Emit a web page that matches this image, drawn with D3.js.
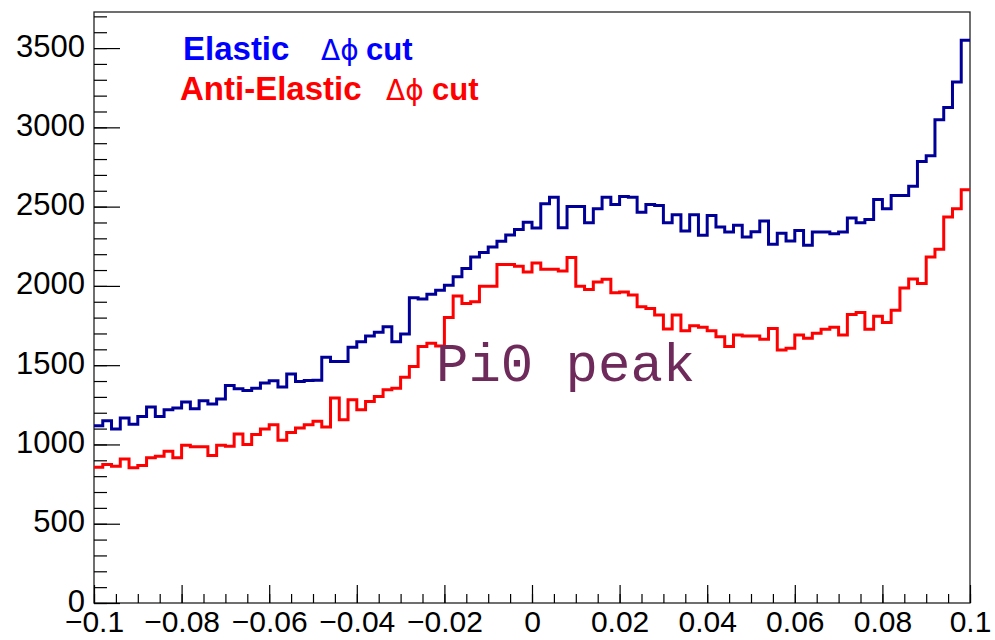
<!DOCTYPE html>
<html>
<head>
<meta charset="utf-8">
<script src="https://cdn.jsdelivr.net/npm/d3@7"></script>
<style>
  html, body { margin: 0; padding: 0; background: #fff; }
  svg { display: block; }
</style>
</head>
<body>
<svg id="chart" width="995" height="640"></svg>
<script>
// Histogram range and binning (100 bins from -0.1 to 0.1)
const xMin = -0.1;
const xMax = 0.1;

// Counts per bin, elastic Δϕ cut
const elastic = [
  1118, 1150, 1098, 1167, 1127, 1177, 1236, 1177, 1219, 1230,
  1267, 1225, 1276, 1255, 1286, 1372, 1351, 1340, 1355, 1387,
  1401, 1362, 1445, 1397, 1403, 1405, 1550, 1523, 1523, 1613,
  1648, 1684, 1707, 1743, 1648, 1697, 1925, 1917, 1948, 1973,
  2004, 2057, 2109, 2183, 2210, 2245, 2281, 2321, 2356, 2402,
  2365, 2518, 2559, 2367, 2501, 2501, 2398, 2486, 2559, 2513,
  2564, 2559, 2465, 2513, 2507, 2398, 2449, 2346, 2449, 2319,
  2444, 2371, 2340, 2382, 2309, 2342, 2409, 2262, 2332, 2283,
  2350, 2256, 2340, 2340, 2329, 2340, 2428, 2398, 2419, 2545,
  2486, 2570, 2570, 2629, 2784, 2821, 3048, 3125, 3286, 3550
];

// Counts per bin, anti-elastic Δϕ cut
const antiElastic = [
  856, 873, 863, 909, 853, 867, 916, 926, 957, 916,
  995, 985, 985, 930, 995, 988, 1066, 999, 1062, 1098,
  1125, 1026, 1076, 1104, 1125, 1146, 1110, 1293, 1156, 1282,
  1219, 1271, 1303, 1345, 1355, 1424, 1491, 1617, 1638, 1621,
  1801, 1937, 1889, 1900, 1998, 1998, 2135, 2135, 2124, 2088,
  2145, 2105, 2105, 2094, 2179, 1998, 1977, 2025, 2042, 1956,
  1962, 1942, 1868, 1858, 1816, 1728, 1816, 1717, 1749, 1739,
  1717, 1680, 1617, 1690, 1684, 1684, 1663, 1732, 1596, 1607,
  1690, 1670, 1701, 1726, 1739, 1690, 1819, 1833, 1727, 1808,
  1769, 1847, 1986, 2043, 2015, 2182, 2231, 2434, 2486, 2606
];

// Axis ticks
const xTickValues = [-0.1, -0.08, -0.06, -0.04, -0.02, 0, 0.02, 0.04, 0.06, 0.08, 0.1];
const xTickLabels = ["\u22120.1", "\u22120.08", "\u22120.06", "\u22120.04", "\u22120.02", "0", "0.02", "0.04", "0.06", "0.08", "0.1"];
const xMinorStep = 0.005;
const yTickValues = [0, 500, 1000, 1500, 2000, 2500, 3000, 3500];
const yTickLabels = ["0", "500", "1000", "1500", "2000", "2500", "3000", "3500"];
const yMinorStep = 100;

// Series styling and legend text
const seriesNames = ["Elastic", "Anti-Elastic"];
const lineColors = ["#000099", "#ff0000"];
const textColors = ["#0000ff", "#ff0000"];
const annotation = "Pi0 peak";

const svg = d3.select("#chart");
const frame = { left: 94, right: 970, top: 12, bottom: 603 };
const sans = "'Liberation Sans', Arial, Helvetica, sans-serif";

const x = d3.scaleLinear().domain([xMin, xMax]).range([frame.left, frame.right]);
const yMax = d3.max(elastic) * 1.05;
const y = d3.scaleLinear().domain([0, yMax]).range([frame.bottom, frame.top]);

// Frame
svg.append("rect")
  .attr("x", frame.left).attr("y", frame.top)
  .attr("width", frame.right - frame.left).attr("height", frame.bottom - frame.top)
  .attr("fill", "none").attr("stroke", "#222").attr("stroke-width", 1.3);

// Minor ticks
const xMinor = d3.range(0, Math.round((xMax - xMin) / xMinorStep) + 1).map(i => xMin + i * xMinorStep);
const yMinor = d3.range(0, yMax, yMinorStep);

svg.append("g")
  .attr("transform", `translate(0,${frame.bottom})`)
  .call(d3.axisBottom(x).tickValues(xMinor).tickSizeInner(-9).tickSizeOuter(0).tickFormat(""))
  .call(g => g.select(".domain").remove())
  .selectAll("line").attr("stroke", "#000").attr("stroke-width", 1.2);

svg.append("g")
  .attr("transform", `translate(${frame.left},0)`)
  .call(d3.axisLeft(y).tickValues(yMinor).tickSizeInner(-13).tickSizeOuter(0).tickFormat(""))
  .call(g => g.select(".domain").remove())
  .selectAll("line").attr("stroke", "#000").attr("stroke-width", 1.2);

// Major ticks with labels
const xAxis = svg.append("g")
  .attr("transform", `translate(0,${frame.bottom})`)
  .call(d3.axisBottom(x).tickValues(xTickValues).tickSizeInner(-18).tickSizeOuter(0).tickPadding(8)
    .tickFormat((d, i) => xTickLabels[i]))
  .call(g => g.select(".domain").remove());
xAxis.selectAll("line").attr("stroke", "#000").attr("stroke-width", 1.2);
xAxis.selectAll("text").attr("font-family", sans).attr("font-size", 30).attr("fill", "#000");

const yAxis = svg.append("g")
  .attr("transform", `translate(${frame.left},0)`)
  .call(d3.axisLeft(y).tickValues(yTickValues).tickSizeInner(-26).tickSizeOuter(0).tickPadding(9)
    .tickFormat((d, i) => yTickLabels[i]))
  .call(g => g.select(".domain").remove());
yAxis.selectAll("line").attr("stroke", "#000").attr("stroke-width", 1.2);
yAxis.selectAll("text").attr("font-family", sans).attr("font-size", 31).attr("fill", "#000")
  .attr("dy", "0.26em");

// Step histograms
function stepPath(values) {
  const n = values.length;
  const edge = i => xMin + i * (xMax - xMin) / n;
  let p = `M${x(edge(0))},${y(values[0])}`;
  values.forEach((v, i) => {
    if (i > 0) p += `V${y(v)}`;
    p += `H${x(edge(i + 1))}`;
  });
  return p;
}

[elastic, antiElastic].forEach((vals, k) => {
  svg.append("path")
    .attr("d", stepPath(vals))
    .attr("fill", "none")
    .attr("stroke", lineColors[k])
    .attr("stroke-width", 3)
    .attr("stroke-linejoin", "miter");
});

// Legend text
const legendRows = [
  { name: seriesNames[0], x: 183, y: 60, symX: 321, cutX: 366 },
  { name: seriesNames[1], x: 180, y: 100, symX: 386, cutX: 432 }
];
legendRows.forEach((r, k) => {
  const t = svg.append("text")
    .attr("y", r.y)
    .attr("font-family", sans)
    .attr("font-size", 32)
    .attr("fill", textColors[k]);
  t.append("tspan").attr("x", r.x).attr("font-weight", "bold").attr("font-size", 33).text(r.name);
  t.append("tspan").attr("x", r.symX).attr("font-family", "'DejaVu Sans', sans-serif").attr("font-size", 28).text("\u0394\u03D5");
  t.append("tspan").attr("x", r.cutX).attr("font-weight", "bold").attr("font-size", 31).text("cut");
});

// Annotation
svg.append("text")
  .attr("x", 436).attr("y", 381)
  .attr("font-family", "'Liberation Mono', 'Courier New', monospace")
  .attr("font-size", 54)
  .attr("fill", "#6e2a5a")
  .text(annotation);
</script>
</body>
</html>
